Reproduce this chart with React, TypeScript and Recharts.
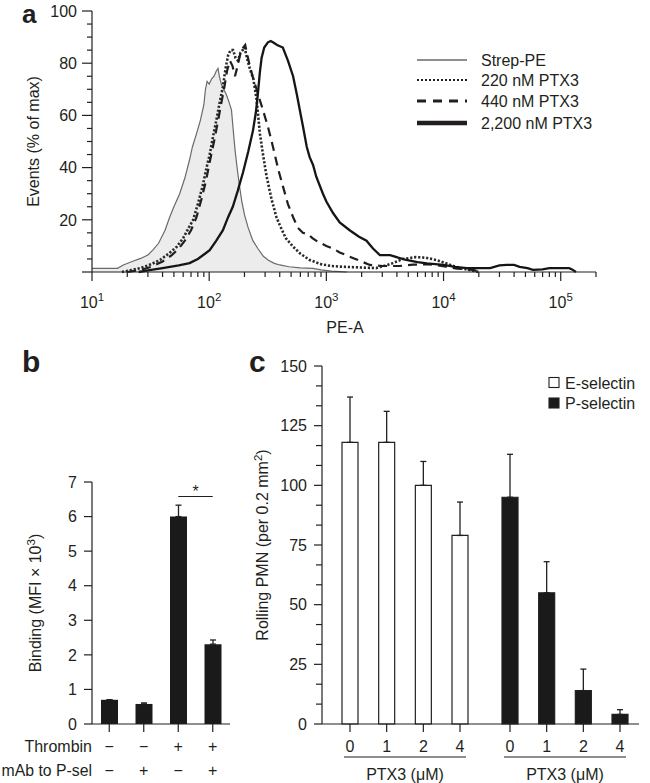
import React from 'react';
import {
  ComposedChart, Line, Area, XAxis, YAxis, Legend,
  BarChart, Bar, ErrorBar, Cell, ReferenceLine,
} from 'recharts';

const FONT = '"Liberation Sans", Arial, Helvetica, sans-serif';
const INK = '#231f20';
const FS = 16;

// ---------------- Panel a : flow cytometry histograms ----------------
const strepPE = [[10,1.4],[16.5,1.4],[18.5,2.7],[22,4],[26,5.2],[30,6.5],[33,8.4],[37,11],[42,16],[46,21],[50,25],[56,30],[62,36],[68,43],[72,48],[78,53],[84,58],[90,64],[93,70],[96,73],[100,72],[105,74],[110,75],[115,77],[119,78],[122,75],[127,72],[133,70],[140,68],[148,65],[155,62],[160,55],[166,47],[172,41],[180,34],[190,27],[200,22],[215,17],[236,12],[260,9],[290,6],[320,4.5],[360,3.3],[400,2.7],[480,2],[600,1.6],[770,1.4],[900,0.8],[1100,0.3],[1500,0]];
const ptx220 = [[18,0],[22,0.8],[26,1.5],[32,3],[38,4.6],[45,7],[53,9.7],[60,13],[67,17],[73,20],[80,26],[88,33],[95,40],[101,45],[108,52],[115,58],[123,65],[131,71],[138,78],[145,83],[152,85],[160,85],[168,82],[176,81],[185,84],[193,85],[201,86],[210,82],[222,78],[238,74],[254,66],[271,53],[288,45],[308,37],[340,28],[375,21],[400,18],[450,13],[520,9.7],[600,7],[720,4.6],[900,3],[1100,2.3],[1380,2],[1800,1.8],[2660,1.5],[3200,2.5],[3690,3.4],[4500,5],[5800,5.7],[7000,5.5],[8700,4.6],[11000,3],[13700,1.5],[17700,0.5],[20000,0]];
const ptx440 = [[20,0],[26,0.8],[32,2],[40,4],[48,6.5],[55,9],[62,12],[70,16],[78,21],[86,28],[94,35],[102,43],[110,50],[118,57],[126,64],[135,71],[142,77],[150,81],[158,79],[166,75],[175,79],[185,84],[195,86],[203,87],[212,83],[222,79],[238,74],[254,70],[270,66],[288,62],[320,55],[350,48],[390,39],[425,33],[470,26],[520,21],[570,17],[630,15],[700,14.5],[760,13],[850,11.5],[1000,10],[1140,9],[1300,7.5],[1680,5.4],[2000,4],[2350,2.7],[3000,2.3],[4200,2.3],[5500,2.8],[7200,3],[9000,2.5],[10500,2],[13000,1.3],[17700,0.8],[21000,0]];
const ptx2200 = [[25,0],[32,0.8],[40,1.5],[55,2.5],[68,3.4],[80,5],[92,7],[101,8.4],[115,12],[131,16],[145,21],[159,25],[175,31],[194,38],[215,46],[236,54],[250,61],[260,68],[270,76],[280,82],[295,86],[317,88],[335,88.5],[350,88],[380,87],[425,86],[470,81],[520,75],[560,68],[594,62],[630,56],[680,48],[720,44],[770,41],[820,36.5],[935,30],[1000,27],[1140,22.6],[1300,19],[1580,16],[1900,13.5],[2200,12],[2500,9],[2860,6.5],[3500,6.5],[4100,5.5],[4800,4.6],[6000,3.8],[7200,3.3],[8500,3],[10000,2.7],[12500,2],[15800,1.5],[20000,1.5],[25000,1.5],[30000,2.5],[34700,2.7],[40000,2.7],[44600,2],[52000,1.5],[58000,0.8],[70000,1],[80000,1.5],[91000,1.5],[118000,1.5],[125000,1],[135000,0]];
const histNames = ['Strep-PE', '220 nM PTX3', '440 nM PTX3', '2,200 nM PTX3'];
const peTicks = [10,20,30,40,50,60,70,80,90,100,200,300,400,500,600,700,800,900,1000,2000,3000,4000,5000,6000,7000,8000,9000,10000,20000,30000,40000,50000,60000,70000,80000,90000,100000,200000];
const eventsTicks = [0,5,10,15,20,25,30,35,40,45,50,55,60,65,70,75,80,85,90,95,100];

const toPts = (arr: number[][]) => arr.map(([x, y]) => ({ x, y }));

// ---------------- Panel b : binding ----------------
const conditions = ['c1', 'c2', 'c3', 'c4'];
const thrombinSigns = ['\u2212', '\u2212', '+', '+'];
const mAbSigns = ['\u2212', '+', '\u2212', '+'];
const bindingValues = [0.7, 0.58, 6.0, 2.31];
const bindingErrors = [0, 0.03, 0.33, 0.12];
const bindingTicks = [0, 1, 2, 3, 4, 5, 6, 7];
const significanceLevel = 6.58;

// ---------------- Panel c : rolling PMN ----------------
const selectins = ['E-selectin', 'P-selectin'];
const doses = ['0', '1', '2', '4'];
const eSelectinMeans = [118, 118, 100, 79];
const eSelectinErrors = [19, 13, 10, 14];
const pSelectinMeans = [95, 55, 14, 4];
const pSelectinErrors = [18, 13, 9, 2];
const rollingMajorTicks = [0, 25, 50, 75, 100, 125, 150];

const bindingData = conditions.map((k, i) => ({ key: k, value: bindingValues[i], err: [0, bindingErrors[i]] }));

const rollingData = selectins.map((s, j) => {
  const means = j === 0 ? eSelectinMeans : pSelectinMeans;
  const errs = j === 0 ? eSelectinErrors : pSelectinErrors;
  const row: any = { group: s };
  doses.forEach((_, k) => { row[`d${k}`] = means[k]; row[`e${k}`] = [0, errs[k]]; });
  return row;
});
const rollingTicks: number[] = [];
rollingMajorTicks.forEach((t, i) => {
  rollingTicks.push(t);
  if (i < rollingMajorTicks.length - 1) {
    const step = (rollingMajorTicks[i + 1] - t) / 3;
    rollingTicks.push(t + step, t + 2 * step);
  }
});

const BAR_C = 16;
const GAP_C = 20.67;

const txt: any = { fontFamily: FONT, fontSize: FS, fill: INK };

// ---------------- tick renderers ----------------
function LogTick(props: any) {
  const { x, y, payload } = props;
  const v = payload.value;
  const e = Math.log10(v);
  const major = Math.abs(e - Math.round(e)) < 1e-6;
  return (
    <g>
      <line x1={x} y1={y} x2={x} y2={y + (major ? 9 : 5)} stroke={INK} strokeWidth={1.2} />
      {major && (
        <text x={x} y={y + 36} textAnchor="middle" {...txt}>
          10<tspan dy={-7} fontSize={11.5}>{Math.round(e)}</tspan>
        </text>
      )}
    </g>
  );
}

function EventsTick(props: any) {
  const { x, y, payload } = props;
  const v = payload.value;
  const major = v % 20 === 0;
  return (
    <g>
      <line x1={x} y1={y} x2={x - (major ? 10 : 5)} y2={y} stroke={INK} strokeWidth={1.2} />
      {major && v > 0 && (
        <text x={x - 15} y={y} dy={5.7} textAnchor="end" {...txt}>{v}</text>
      )}
    </g>
  );
}

function BindingYTick(props: any) {
  const { x, y, payload } = props;
  return (
    <g>
      <line x1={x} y1={y} x2={x - 8} y2={y} stroke={INK} strokeWidth={1.2} />
      <text x={x - 15} y={y} dy={5.7} textAnchor="end" {...txt}>{payload.value}</text>
    </g>
  );
}

function BindingXTick(props: any) {
  const { x, y, payload } = props;
  const i = conditions.indexOf(payload.value);
  const half = payload.offset ?? 17.25;
  return (
    <g>
      <line x1={x} y1={y} x2={x} y2={y + 8} stroke={INK} strokeWidth={1.2} />
      <text x={x} y={y + 28} textAnchor="middle" {...txt}>{thrombinSigns[i]}</text>
      <text x={x} y={y + 51.5} textAnchor="middle" {...txt}>{mAbSigns[i]}</text>
      {i === 0 && (
        <g>
          <text x={x - half} y={y + 28} textAnchor="end" {...txt}>Thrombin</text>
          <text x={x - half} y={y + 51.5} textAnchor="end" {...txt} fontSize={15.8}>mAb to P-sel</text>
        </g>
      )}
    </g>
  );
}

function RollingYTick(props: any) {
  const { x, y, payload } = props;
  const v = payload.value;
  const major = rollingMajorTicks.includes(v);
  return (
    <g>
      <line x1={x} y1={y} x2={x - (major ? 8 : 6)} y2={y} stroke={INK} strokeWidth={1.2} />
      {major && <text x={x - 15} y={y} dy={5.7} textAnchor="end" {...txt}>{v}</text>}
    </g>
  );
}

function DoseTick(props: any) {
  const { x, y } = props;
  const pitch = BAR_C + GAP_C;
  return (
    <g>
      {doses.map((d, k) => {
        const tx = x + (k - (doses.length - 1) / 2) * pitch;
        return (
          <g key={d}>
            <line x1={tx} y1={y} x2={tx} y2={y + 8} stroke={INK} strokeWidth={1.2} />
            <text x={tx} y={y + 28} textAnchor="middle" {...txt}>{d}</text>
          </g>
        );
      })}
      <line x1={x - 61} y1={y + 33} x2={x + 61} y2={y + 33} stroke={INK} strokeWidth={1.2} />
      <text x={x} y={y + 56} textAnchor="middle" {...txt}>PTX3 (μM)</text>
    </g>
  );
}

// ---------------- legends ----------------
const histStyles = [
  { stroke: INK, w: 1.2, dash: undefined as any },
  { stroke: INK, w: 2, dash: '2 2' },
  { stroke: INK, w: 3, dash: '9 7' },
  { stroke: INK, w: 4.5, dash: undefined as any },
];
const legendRowY = [15, 35, 56, 78];

function HistLegend() {
  return (
    <svg width={230} height={92}>
      {histNames.map((n, i) => (
        <g key={n}>
          <line x1={7} y1={legendRowY[i]} x2={57} y2={legendRowY[i]} stroke={histStyles[i].stroke}
            strokeWidth={histStyles[i].w} strokeDasharray={histStyles[i].dash} />
          <text x={71} y={legendRowY[i] + 6} {...txt}>{n}</text>
        </g>
      ))}
    </svg>
  );
}

function SelectinLegend() {
  return (
    <svg width={110} height={45}>
      {selectins.map((s, j) => (
        <g key={s}>
          <rect x={4} y={7.5 + j * 20.5} width={10} height={10} fill={j === 0 ? '#fff' : '#1a1a1a'} stroke={INK} strokeWidth={1.1} />
          <text x={20} y={18.5 + j * 20.5} {...txt}>{s}</text>
        </g>
      ))}
    </svg>
  );
}

const letterStyle: any = { fontFamily: FONT, fontSize: 30, fontWeight: 'bold', fill: INK };

export default function App() {
  return (
    <div style={{ position: 'absolute', left: 0, top: 0, width: 650, height: 783, background: '#fff', overflow: 'hidden' }}>
      {/* Panel a */}
      <div style={{ position: 'absolute', left: 0, top: 0 }}>
        <ComposedChart width={650} height={345} margin={{ top: 11, right: 54, bottom: 0, left: 0 }}>
          <XAxis
            type="number" dataKey="x" scale="log" domain={[10, 200000]} allowDataOverflow
            ticks={peTicks} interval={0} tick={<LogTick />} tickLine={false} tickSize={0} tickMargin={0}
            axisLine={{ stroke: INK, strokeWidth: 1.2 }} height={73}
            label={{ content: () => <text x={345} y={333} textAnchor="middle" {...txt}>PE-A</text> }}
          />
          <YAxis
            type="number" domain={[0, 100]} ticks={eventsTicks} interval={0} width={92}
            tick={<EventsTick />} tickLine={false} tickSize={0} tickMargin={0}
            axisLine={{ stroke: INK, strokeWidth: 1.2 }}
            label={{
              content: () => (
                <g>
                  <text x={22} y={23} {...letterStyle} fontSize={26}>a</text>
                  <text x={33} y={141.5} dy={5.7} transform="rotate(-90 33 141.5)" textAnchor="middle" {...txt}>Events (% of max)</text>
                </g>
              ),
            }}
          />
          <Area data={toPts(strepPE)} dataKey="y" name={histNames[0]} type="linear" stroke="#6a6a6a" strokeWidth={1.2}
            fill="#ececec" fillOpacity={1} dot={false} activeDot={false} isAnimationActive={false} />
          <Line data={toPts(ptx220)} dataKey="y" name={histNames[1]} type="linear" stroke="#2a2a2a" strokeWidth={2.6}
            strokeDasharray="2.2 1.8" dot={false} activeDot={false} isAnimationActive={false} />
          <Line data={toPts(ptx440)} dataKey="y" name={histNames[2]} type="linear" stroke="#1f1f1f" strokeWidth={2.2}
            strokeDasharray="9 6" dot={false} activeDot={false} isAnimationActive={false} />
          <Line data={toPts(ptx2200)} dataKey="y" name={histNames[3]} type="linear" stroke="#151515" strokeWidth={2.3}
            dot={false} activeDot={false} isAnimationActive={false} />
          <Legend layout="horizontal" verticalAlign="middle" align="center"
            wrapperStyle={{ position: 'absolute', left: 410, top: 45, width: 230, height: 92 }}
            content={() => <HistLegend />} />
        </ComposedChart>
      </div>

      {/* Panel b */}
      <div style={{ position: 'absolute', left: 0, top: 340 }}>
        <BarChart width={245} height={443} data={bindingData} margin={{ top: 142, right: 15, bottom: 0, left: 0 }}>
          <XAxis dataKey="key" type="category" interval={0} height={59} tick={<BindingXTick />}
            tickLine={false} tickSize={0} tickMargin={0} axisLine={{ stroke: INK, strokeWidth: 1.2 }} />
          <YAxis type="number" domain={[0, 7]} ticks={bindingTicks} interval={0} width={92}
            tick={<BindingYTick />} tickLine={false} tickSize={0} tickMargin={0}
            axisLine={{ stroke: INK, strokeWidth: 1.2 }}
            label={{
              content: () => (
                <g>
                  <text x={22} y={32} {...letterStyle}>b</text>
                  <text x={35} y={263} dy={5.7} transform="rotate(-90 35 263)" textAnchor="middle" {...txt}>
                    Binding (MFI × 10<tspan dy={-6} fontSize={11.5}>3</tspan><tspan dy={6}>)</tspan>
                  </text>
                </g>
              ),
            }}
          />
          <Bar dataKey="value" fill="#1a1a1a" barSize={17} isAnimationActive={false}>
            <ErrorBar dataKey="err" direction="y" width={3} stroke={INK} strokeWidth={1.3} />
          </Bar>
          <ReferenceLine
            segment={[{ x: conditions[2], y: significanceLevel }, { x: conditions[3], y: significanceLevel }]}
            stroke={INK} strokeWidth={1.2}
            label={{ value: '*', position: 'top', offset: 0, fontSize: 16, fill: INK, fontFamily: FONT }}
          />
        </BarChart>
      </div>

      {/* Panel c */}
      <div style={{ position: 'absolute', left: 245, top: 340 }}>
        <BarChart width={405} height={443} data={rollingData} barGap={GAP_C}
          margin={{ top: 26, right: 11, bottom: 0, left: 0 }}>
          <XAxis dataKey="group" type="category" interval={0} height={59} padding={{ left: 3, right: -6 }}
            tick={<DoseTick />} tickLine={false} tickSize={0} tickMargin={0}
            axisLine={{ stroke: INK, strokeWidth: 1.2 }} />
          <YAxis type="number" domain={[0, 150]} ticks={rollingTicks} interval={0} width={77}
            tick={<RollingYTick />} tickLine={false} tickSize={0} tickMargin={0}
            axisLine={{ stroke: INK, strokeWidth: 1.2 }}
            label={{
              content: () => (
                <g>
                  <text x={4} y={32} {...letterStyle}>c</text>
                  <text x={17} y={205} dy={5.7} transform="rotate(-90 17 205)" textAnchor="middle" {...txt}>
                    Rolling PMN (per 0.2 mm<tspan dy={-6} fontSize={11.5}>2</tspan><tspan dy={6}>)</tspan>
                  </text>
                </g>
              ),
            }}
          />
          {doses.map((d, k) => (
            <Bar key={d} dataKey={`d${k}`} barSize={BAR_C} isAnimationActive={false}>
              {rollingData.map((r, j) => (
                <Cell key={r.group} fill={j === 0 ? '#ffffff' : '#1a1a1a'} stroke={INK} strokeWidth={1.2} />
              ))}
              <ErrorBar dataKey={`e${k}`} direction="y" width={3} stroke={INK} strokeWidth={1.3} />
            </Bar>
          ))}
          <Legend layout="horizontal" verticalAlign="middle" align="center"
            wrapperStyle={{ position: 'absolute', left: 300, top: 30, width: 110, height: 45 }}
            content={() => <SelectinLegend />} />
        </BarChart>
      </div>
    </div>
  );
}
